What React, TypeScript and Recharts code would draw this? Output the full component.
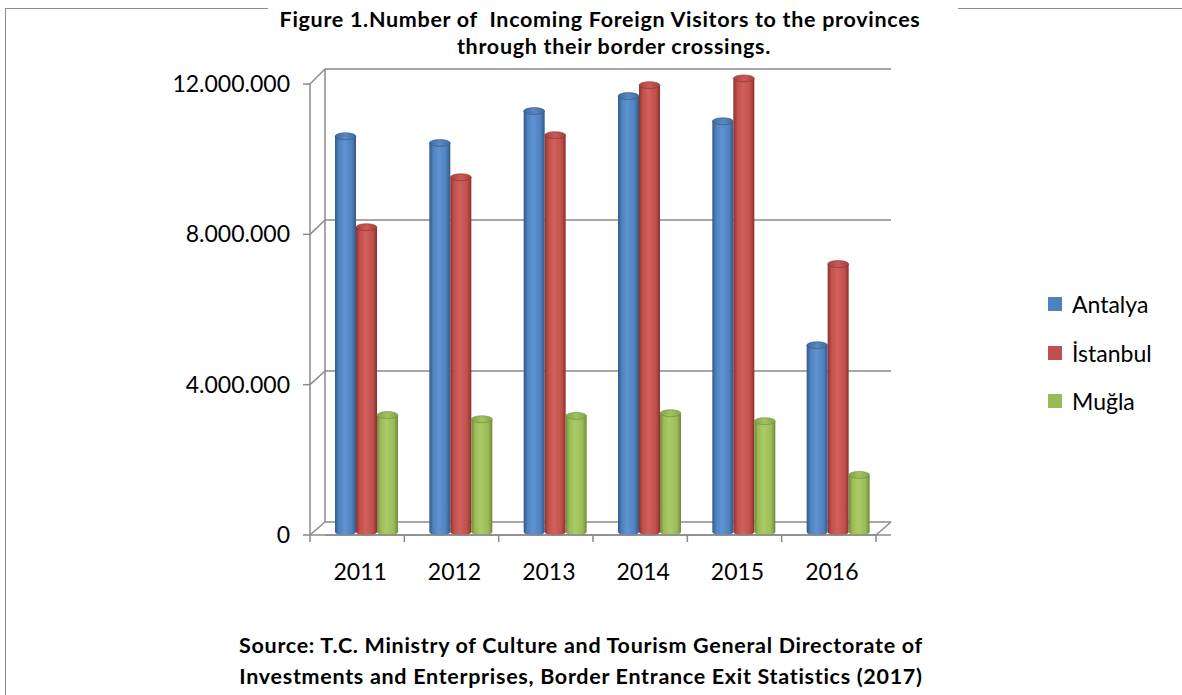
import React from 'react';
import { BarChart, Bar, XAxis, YAxis, CartesianGrid, Legend } from 'recharts';

// ---- data ----
const years = ['2011', '2012', '2013', '2014', '2015', '2016'];
const antalya = [10530000, 10350000, 11200000, 11600000, 10930000, 4970000];
const istanbul = [8110000, 9440000, 10560000, 11890000, 12070000, 7130000];
const mugla = [3110000, 3000000, 3090000, 3160000, 2950000, 1520000];
const yTicks = [0, 4000000, 8000000, 12000000];
const seriesNames = ['Antalya', 'İstanbul', 'Muğla'];
const titleLines = [
  'Figure 1.Number of  Incoming Foreign Visitors to the provinces',
  'through their border crossings.',
];
const sourceLines = [
  'Source: T.C. Ministry of Culture and Tourism General Directorate of',
  'Investments and Enterprises, Border Entrance Exit Statistics (2017)',
];

const data = years.map((y, i) => ({
  year: y,
  [seriesNames[0]]: antalya[i],
  [seriesNames[1]]: istanbul[i],
  [seriesNames[2]]: mugla[i],
}));

// ---- layout / style ----
const W = 1182;
const H = 695;
const PLOT_LEFT = 310;
const PLOT_RIGHT = 876;
const PLOT_TOP = 69;
const PLOT_BOTTOM = 535;
const X_AXIS_H = 2;
const Y_MAX = 12400000;
const G_MIN = -344000;
const G_MAX = 12000000;
const DX = 15;
const BAR_DX = 9;
const BAR_DY = -3;
const FONT = 'Lato, "Open Sans", sans-serif';
const AXIS_COLOR = '#8a8a8a';

const colors = [
  { base: '#4F81BD', dark: '#31598a', light: '#5f93d2', cap: '#3e6aa0', capLight: '#5a88c0' },
  { base: '#C0504D', dark: '#8c302d', light: '#d2605c', cap: '#a8403d', capLight: '#c85a57' },
  { base: '#9BBB59', dark: '#6f8a38', light: '#abcb67', cap: '#84a449', capLight: '#a2c160' },
];

const backY = (v: number) => PLOT_BOTTOM - ((v - G_MIN) / (G_MAX - G_MIN)) * (PLOT_BOTTOM - PLOT_TOP);

const makeCylinder = (idx: number) => (props: any) => {
  const { x, y, width, height } = props;
  if (height == null || width == null || height <= 0) return null;
  const bx = x + BAR_DX;
  const top = y + BAR_DY;
  const bottom = y + height + BAR_DY;
  const rx = width / 2;
  const ry = 3.5;
  const cx = bx + rx;
  return (
    <g>
      <path
        d={`M${bx},${top} L${bx},${bottom} A${rx},${ry} 0 0 0 ${bx + width},${bottom} L${bx + width},${top} Z`}
        fill={`url(#body${idx})`}
      />
      <ellipse cx={cx} cy={top} rx={rx} ry={ry} fill={`url(#cap${idx})`} stroke={colors[idx].dark} strokeWidth={0.6} />
    </g>
  );
};

const YTick = (props: any) => {
  const { x, y, payload } = props;
  const v = payload.value as number;
  const by = backY(v);
  const label = v === 0 ? '0' : v.toLocaleString('de-DE');
  return (
    <g>
      <line x1={x - 7} y1={y} x2={x} y2={y} stroke={AXIS_COLOR} strokeWidth={1.5} />
      <line x1={x} y1={y} x2={x + DX} y2={by} stroke={AXIS_COLOR} strokeWidth={1.5} />
      {v === yTicks[yTicks.length - 1] && (
        <line x1={x} y1={y} x2={x} y2={PLOT_BOTTOM} stroke={AXIS_COLOR} strokeWidth={1.5} />
      )}
      <text x={x - 20} y={y + 8} textAnchor="end" fontFamily={FONT} fontSize={23} fill="#000">
        {label}
      </text>
    </g>
  );
};

const BW = (PLOT_RIGHT - PLOT_LEFT) / years.length;

const XTick = (props: any) => {
  const { x, y, payload, index } = props;
  return (
    <g>
      <line x1={x - BW / 2} y1={y} x2={x - BW / 2} y2={y + 7} stroke={AXIS_COLOR} strokeWidth={1.5} />
      {index === years.length - 1 && (
        <line x1={x + BW / 2} y1={y} x2={x + BW / 2} y2={y + 7} stroke={AXIS_COLOR} strokeWidth={1.5} />
      )}
      <text x={x + 3} y={y + 45} textAnchor="middle" fontFamily={FONT} fontSize={23} fill="#000">
        {payload.value}
      </text>
    </g>
  );
};

const gridLine = (p: any) => {
  const y1 = p.y1;
  const x1 = PLOT_LEFT + DX;
  const x2 = PLOT_RIGHT + DX;
  return (
    <g key={`g-${y1}`}>
      <line x1={x1} y1={y1} x2={x2} y2={y1} stroke={AXIS_COLOR} strokeWidth={1.5} />
      {Math.abs(y1 - PLOT_TOP) < 1 && (
        <line x1={x1} y1={y1} x2={x1} y2={backY(0)} stroke={AXIS_COLOR} strokeWidth={1.5} />
      )}
      {Math.abs(y1 - backY(0)) < 1 && (
        <line x1={x2} y1={y1} x2={PLOT_RIGHT} y2={PLOT_BOTTOM} stroke={AXIS_COLOR} strokeWidth={1.5} />
      )}
    </g>
  );
};

const renderLegend = (props: any) => {
  const payload = [...(props.payload || [])].sort(
    (a: any, b: any) => seriesNames.indexOf(a.value) - seriesNames.indexOf(b.value)
  );
  return (
    <div style={{ fontFamily: FONT, fontSize: 23, color: '#000' }}>
      {payload.map((e: any) => (
        <div key={e.value} style={{ display: 'flex', alignItems: 'center', height: 48.5 }}>
          <span style={{ display: 'inline-block', width: 14, height: 14, background: e.color, marginRight: 10 }} />
          <span>{e.value}</span>
        </div>
      ))}
    </div>
  );
};

const textStyle: React.CSSProperties = {
  position: 'absolute',
  fontFamily: FONT,
  fontWeight: 700,
  fontSize: 21.5,
  letterSpacing: 0.7,
  color: '#000',
  whiteSpace: 'pre',
  transform: 'translate(-50%, -50%)',
  lineHeight: 1,
};

export default function App() {
  return (
    <div style={{ position: 'absolute', left: 0, top: 0, width: W, height: H, background: '#fff', overflow: 'hidden' }}>
      <div style={{ position: 'absolute', left: 5, top: 8, width: 1, height: H - 8, background: '#8c8c8c' }} />
      <div style={{ position: 'absolute', left: 5, top: 8, width: 263, height: 1, background: '#8c8c8c' }} />
      <div style={{ position: 'absolute', left: 958, top: 8, width: W - 958, height: 1, background: '#8c8c8c' }} />
      <BarChart
        width={W}
        height={H}
        data={data}
        margin={{ top: PLOT_TOP, right: W - PLOT_RIGHT, bottom: H - PLOT_BOTTOM - X_AXIS_H, left: 0 }}
        barCategoryGap={16}
        barGap={0}
      >
        <defs>
          {colors.map((c, i) => (
            <linearGradient key={`b${i}`} id={`body${i}`} x1="0" y1="0" x2="1" y2="0">
              <stop offset="0%" stopColor={c.dark} />
              <stop offset="18%" stopColor={c.base} />
              <stop offset="45%" stopColor={c.light} />
              <stop offset="80%" stopColor={c.base} />
              <stop offset="100%" stopColor={c.dark} />
            </linearGradient>
          ))}
          {colors.map((c, i) => (
            <linearGradient key={`c${i}`} id={`cap${i}`} x1="0" y1="0" x2="1" y2="0">
              <stop offset="0%" stopColor={c.cap} />
              <stop offset="50%" stopColor={c.capLight} />
              <stop offset="100%" stopColor={c.cap} />
            </linearGradient>
          ))}
        </defs>
        <YAxis
          yAxisId="main"
          type="number"
          width={PLOT_LEFT}
          domain={[0, Y_MAX]}
          ticks={yTicks}
          axisLine={false}
          tickLine={false}
          tickSize={0}
          tickMargin={0}
          tick={<YTick />}
          interval={0}
        />
        <YAxis
          yAxisId="grid"
          orientation="right"
          hide
          type="number"
          domain={[G_MIN, G_MAX]}
          ticks={yTicks}
          allowDataOverflow
        />
        <CartesianGrid yAxisId="grid" vertical={false} horizontal={gridLine} />
        <XAxis
          dataKey="year"
          height={X_AXIS_H}
          axisLine={{ stroke: AXIS_COLOR, strokeWidth: 1.5 }}
          tickLine={false}
          tickSize={0}
          tickMargin={0}
          tick={<XTick />}
          interval={0}
        />
        <Legend
          layout="vertical"
          align="center"
          verticalAlign="middle"
          content={renderLegend}
          wrapperStyle={{ left: 1048, top: 280, width: 130 }}
        />
        {seriesNames.map((name, i) => (
          <Bar
            key={name}
            yAxisId="main"
            dataKey={name}
            fill={colors[i].base}
            shape={makeCylinder(i)}
            isAnimationActive={false}
          />
        ))}
      </BarChart>
      <div style={{ ...textStyle, left: 600, top: 20 }}>{titleLines[0]}</div>
      <div style={{ ...textStyle, left: 614, top: 47 }}>{titleLines[1]}</div>
      <div style={{ ...textStyle, left: 581, top: 646 }}>{sourceLines[0]}</div>
      <div style={{ ...textStyle, left: 581, top: 677 }}>{sourceLines[1]}</div>
    </div>
  );
}
